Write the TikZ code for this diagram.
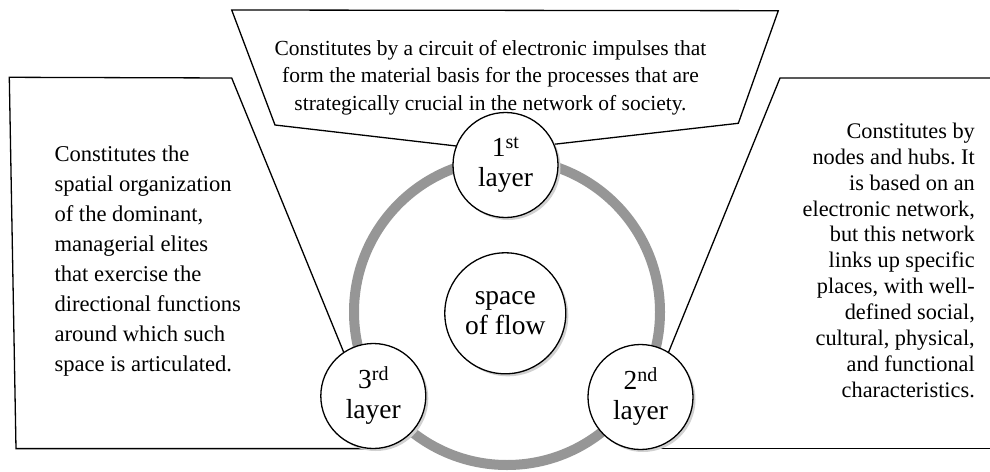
\documentclass[tikz,border=0pt]{standalone}
\usepackage{fontspec}
\setmainfont{Liberation Serif}
\usetikzlibrary{shadows,backgrounds}
\frenchspacing
\newcommand\sps[1]{\raisebox{8pt}{\fontsize{20}{20}\selectfont #1}}
\tikzset{
  layercircle/.style={circle, draw=black, line width=1.3pt, fill=white,
    minimum size=105pt, inner sep=0pt, align=center,
    font=\fontsize{27.5}{30}\selectfont,
    drop shadow={shadow xshift=2.5pt, shadow yshift=-2.5pt, fill=black!18, opacity=1}},
  calloutline/.style={draw=black, line width=1.3pt, line join=miter},
  ringline/.style={draw=black!41, line width=10pt},
  desc/.style={inner sep=0pt}
}
\begin{document}
\begin{tikzpicture}[x=1pt,y=-1pt]
\useasboundingbox (0,0) rectangle (990,471);
\clip (0,0) rectangle (990,471);
\coordinate (rc) at (507,312);
% circles
\node[layercircle, minimum size=121pt] (cs) at (505.3,313.3) {space\\of flow};
\node[layercircle] (c1) at (505.5,165) {1\sps{st}\\layer};
\node[layercircle] (c3) at (373.3,396) {3\sps{rd}\\layer};
\node[layercircle] (c2) at (640.5,397) {2\sps{nd}\\layer};
\begin{pgfonlayer}{background}
  \draw[ringline] (rc) circle[radius=153];
  % top callout
  \draw[calloutline] (c1.159) -- (275,125) -- (231.7,10) -- (778.3,10.7) -- (738.3,123.3) -- (c1.23);
  % left callout
  \draw[calloutline] (c3.124.5) -- (231.7,78) -- (9.3,77.3) -- (c3.262 -| 16,0) -- (c3.262);
  % right callout
  \draw[calloutline] (c2.58) -- (780,78) -- (1000,78);
  \draw[calloutline] (c2.283 -| 1000,0) -- (c2.283);
\end{pgfonlayer}
% texts
\node[desc, anchor=base, font=\fontsize{21.5}{27.5}\selectfont] (t1) at (490.5,55)
  {\begin{tabular}[t]{@{}c@{}}Constitutes by a circuit of electronic impulses that\\
   form the material basis for the processes that are\\
   strategically crucial in the network of society.\end{tabular}};
\node[desc, anchor=base west, font=\fontsize{22.6}{30}\selectfont] (t3) at (54.3,161.7)
  {\begin{tabular}[t]{@{}l@{}}Constitutes the\\ spatial organization\\ of the dominant,\\
   managerial elites\\ that exercise the\\ directional functions\\ around which such\\
   space is articulated.\end{tabular}};
\node[desc, anchor=base east, font=\fontsize{22.3}{25.9}\selectfont] (t2) at (975,138.3)
  {\begin{tabular}[t]{@{}r@{}}Constitutes by\\ nodes and hubs. It\\ is based on an\\
   electronic network,\\ but this network\\ links up specific\\ places, with well-\\
   defined social,\\ cultural, physical,\\ and functional\\ characteristics.\end{tabular}};
\end{tikzpicture}
\end{document}
